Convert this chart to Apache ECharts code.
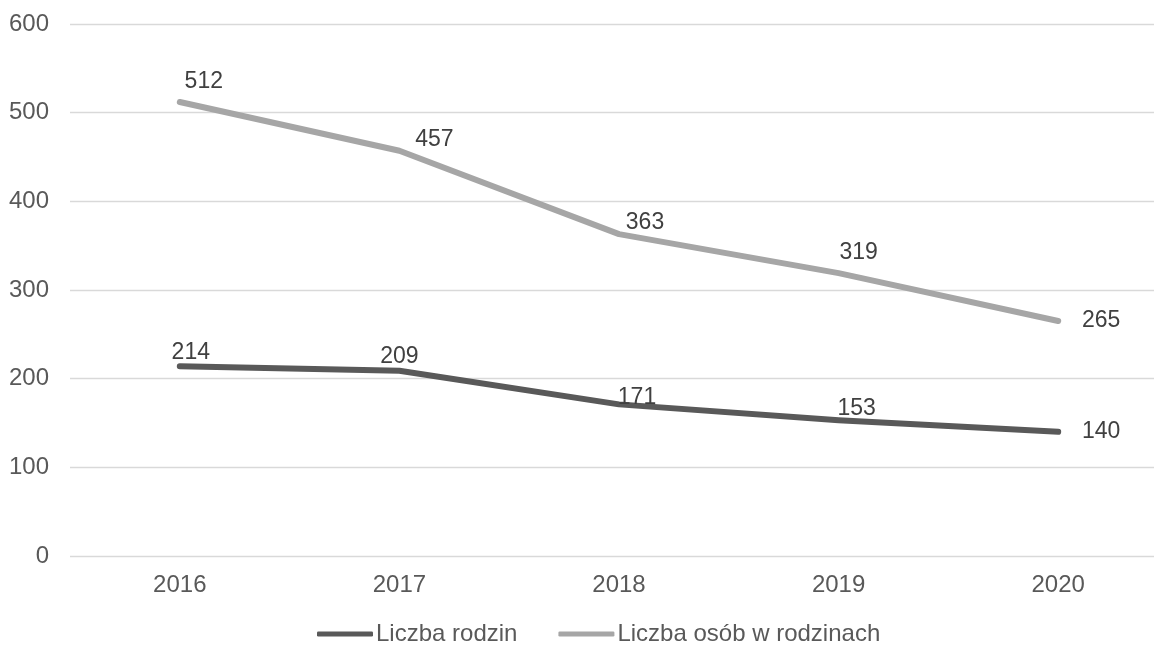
<!DOCTYPE html>
<html>
<head>
<meta charset="utf-8">
<script src="https://cdn.jsdelivr.net/npm/echarts@6/dist/echarts.min.js"></script>
<style>
html,body{margin:0;padding:0;background:#fff;}
#chart{width:1154px;height:646px;}
</style>
</head>
<body>
<div id="chart"></div>
<script>
const categories = ['2016', '2017', '2018', '2019', '2020'];
const seriesNames = ['Liczba rodzin', 'Liczba osób w rodzinach'];
const liczbaRodzin = [214, 209, 171, 153, 140];
const liczbaOsob = [512, 457, 363, 319, 265];
const yTicks = [0, 100, 200, 300, 400, 500, 600];

// label placement (style only)
const offsRodzin = [[11, -14], [0, -14], [18, -7], [18, -12], [43, 0]];
const offsOsob = [[24, -20], [35, -11], [26, -11], [20, -20], [43, 0]];

const FONT = '"Liberation Sans", Arial, sans-serif';

function mkData(vals, offs) {
  return vals.map((v, i) => ({
    value: v,
    label: { offset: offs[i] }
  }));
}

const chart = echarts.init(document.getElementById('chart'), null, { renderer: 'canvas' });
chart.setOption({
  backgroundColor: '#ffffff',
  animation: false,
  textStyle: { fontFamily: FONT },
  grid: { left: 70, top: 24, width: 1098, height: 532, containLabel: false, outerBoundsMode: 'none' },
  legend: {
    data: seriesNames.map((n, i) => ({ name: n, icon: 'roundRect', itemStyle: { color: i === 0 ? '#595959' : '#A6A6A6' } })),
    top: 617,
    left: 312,
    itemWidth: 56,
    itemHeight: 5,
    itemGap: 41,
    textStyle: { fontFamily: FONT, fontSize: 24, color: '#595959', padding: [0, 0, 0, -2] }
  },
  xAxis: {
    type: 'category',
    data: categories,
    boundaryGap: true,
    axisLine: { show: false },
    axisTick: { show: false },
    axisLabel: { fontFamily: FONT, fontSize: 24, color: '#595959', margin: 17 }
  },
  yAxis: {
    type: 'value',
    min: yTicks[0],
    max: yTicks[yTicks.length - 1],
    interval: 100,
    axisLine: { show: false },
    axisTick: { show: false },
    splitLine: { lineStyle: { color: '#D9D9D9', width: 1.3 } },
    axisLabel: { fontFamily: FONT, fontSize: 24, color: '#595959', margin: 21 }
  },
  series: [
    {
      name: seriesNames[0],
      type: 'line',
      data: mkData(liczbaRodzin, offsRodzin),
      symbol: 'circle',
      symbolSize: 0.1,
      showSymbol: true,
      itemStyle: { color: '#595959' },
      lineStyle: { color: '#595959', width: 6, cap: 'round', join: 'round' },
      label: { show: true, position: 'inside', fontFamily: FONT, fontSize: 23, color: '#404040' },
      z: 3
    },
    {
      name: seriesNames[1],
      type: 'line',
      data: mkData(liczbaOsob, offsOsob),
      symbol: 'circle',
      symbolSize: 0.1,
      showSymbol: true,
      itemStyle: { color: '#A6A6A6' },
      lineStyle: { color: '#A6A6A6', width: 6, cap: 'round', join: 'round' },
      label: { show: true, position: 'inside', fontFamily: FONT, fontSize: 23, color: '#404040' },
      z: 2
    }
  ]
});
</script>
</body>
</html>
